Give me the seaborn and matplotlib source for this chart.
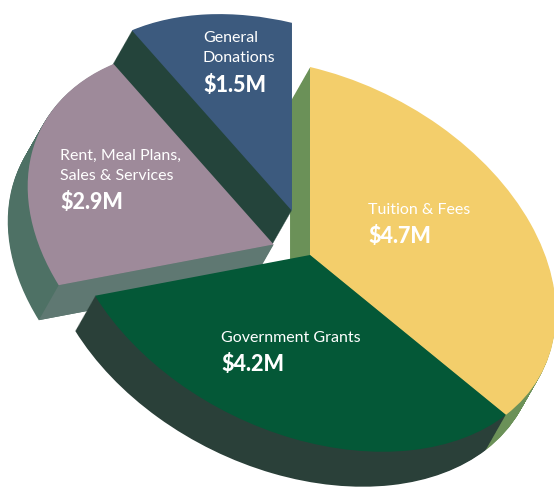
import numpy as np
import matplotlib
matplotlib.use("Agg")
import matplotlib.pyplot as plt
from matplotlib.transforms import Affine2D
import seaborn as sns

# revenue split, clockwise from the top
categories = ["Tuition & Fees", "Government Grants", "Rent, Meal Plans,\nSales & Services", "General\nDonations"]
values = [4.7, 4.2, 2.9, 1.5]
value_labels = ["$4.7M", "$4.2M", "$2.9M", "$1.5M"]
explode = [0, 0, 0.15, 0.235]

top_colors = ["#f3ce6b", "#045837", "#9e8a9a", "#3c5a7e"]
side_colors = ["#6b9158", "#2a4039", "#4e7165", "#24443b"]
cut_color = "#5f7872"

# where the text goes, in pixels of the picture
label_pos = [(368, 210), (221, 338), (60, 166), (203, 48)]
value_pos = [(368, 236), (221, 364), (60, 202), (203, 85)]
# small shift of each slice, the drawing is not a perfect explode
nudge = [(0, 0), (0, 0), (0, 3), (2, 2)]

draw_order = [0, 3, 2, 1]
n_layers = 40
depth = np.array([-0.081, -0.211])

sns.set_theme(style="white")
plt.rcParams["font.family"] = ["Lato", "DejaVu Sans"]

fig, ax = plt.subplots(figsize=(5.54, 4.9), dpi=100)
fig.subplots_adjust(0, 0, 1, 1)

# the unit pie is sheared into the tilted ellipse of the 3D look
shear = Affine2D.from_values(246, 58, 0, -188, 310, 255)


def tilt(i):
    return shear + Affine2D().translate(*nudge[i]) + ax.transData


def draw_pie(center, colors, base_z):
    wedges, _ = ax.pie(values, explode=explode, colors=colors, startangle=90, counterclock=False,
                       center=tuple(center), wedgeprops={"linewidth": 0})
    for rank, i in enumerate(draw_order):
        wedges[i].set_transform(tilt(i))
        wedges[i].set_zorder(rank * 1000 + base_z)
    return wedges


# stack of copies going up gives the thickness
for layer in range(n_layers, 0, -1):
    draw_pie(depth * layer / n_layers, side_colors, n_layers - layer)

tops = draw_pie((0, 0), top_colors, 500)

# rent slice has a lighter cut face
rent = tops[2]
apex = np.array(rent.center)
edge = apex + np.array([np.cos(np.radians(rent.theta2)), np.sin(np.radians(rent.theta2))])
face = np.array([apex, edge, edge + depth, apex + depth])
ax.fill(face[:, 0], face[:, 1], color=cut_color, linewidth=0, transform=tilt(2), zorder=2 * 1000 + 400)

ax.set_aspect("auto")
ax.set_xlim(0, 554)
ax.set_ylim(490, 0)
ax.axis("off")

for name, val, lp, vp in zip(categories, value_labels, label_pos, value_pos):
    ax.text(lp[0], lp[1], name, color="white", fontsize=11.5, ha="left", va="center",
            linespacing=1.5, zorder=9000)
    ax.text(vp[0], vp[1], val.replace("$", r"\$"), color="white", fontsize=15.5, fontweight=900,
            ha="left", va="center", zorder=9000)

fig.savefig("out.png", dpi=100)
